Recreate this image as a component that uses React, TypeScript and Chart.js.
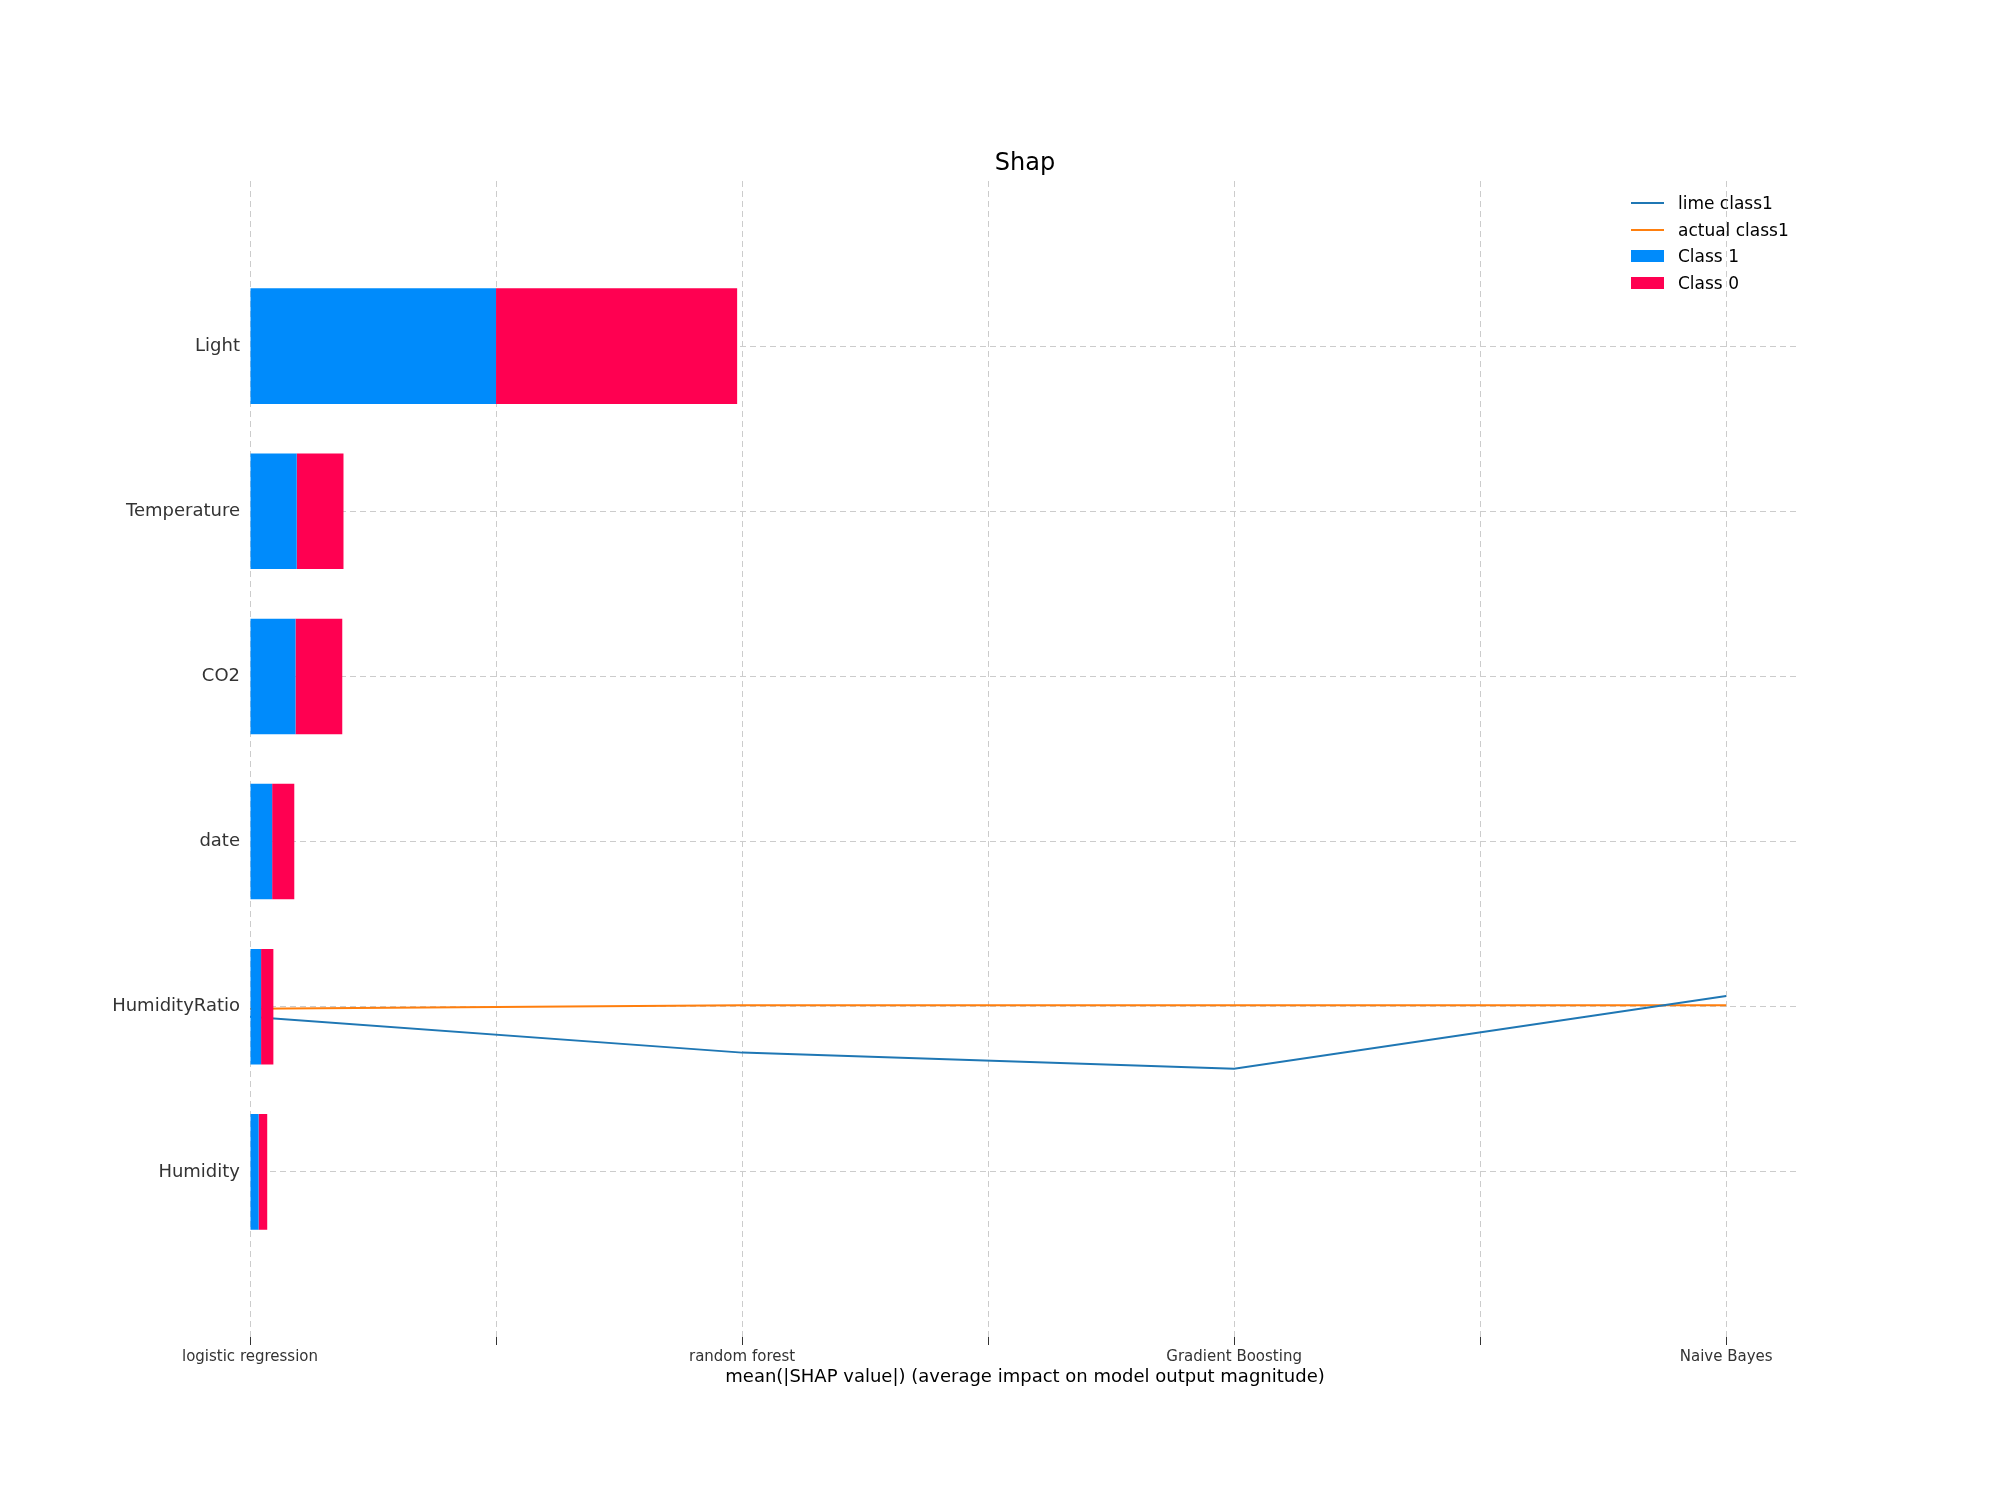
import { useEffect, useRef } from "react";
import { Chart, registerables } from "chart.js";

Chart.register(...registerables);

const features = ["", "Light", "Temperature", "CO2", "date", "HumidityRatio", "Humidity", ""];
const class1Values = [null, 1.0, 0.19, 0.185, 0.09, 0.045, 0.035, null];
const class0Values = [null, 0.98, 0.19, 0.19, 0.09, 0.05, 0.035, null];
const models = ["logistic regression", "random forest", "Gradient Boosting", "Naive Bayes"];
const modelPositions = [0, 2, 4, 6];
const limeClass1 = [0.277, 0.246, 0.232, 0.295];
const actualClass1 = [0.284, 0.287, 0.287, 0.287];

const FONT = "'DejaVu Sans', sans-serif";

export default function App() {
  const chartRef = useRef<HTMLCanvasElement>(null);
  const chartInstance = useRef<Chart | null>(null);

  useEffect(() => {
    if (!chartRef.current) return;
    const ctx = chartRef.current.getContext("2d");
    if (!ctx) return;
    if (chartInstance.current) chartInstance.current.destroy();

    const barBase = {
      type: "bar",
      indexAxis: "y",
      stack: "s",
      barPercentage: 0.7,
      categoryPercentage: 1,
      xAxisID: "x",
      yAxisID: "y",
    };

    chartInstance.current = new Chart(ctx, {
      type: "bar",
      data: {
        labels: features,
        datasets: [
          { ...barBase, label: "Class 1", data: class1Values, backgroundColor: "#008bfb" } as any,
          { ...barBase, label: "Class 0", data: class0Values, backgroundColor: "#ff0051" } as any,
          {
            type: "line",
            label: "lime class1",
            data: modelPositions.map((x, i) => ({ x, y: limeClass1[i] })),
            borderColor: "#1f77b4",
            borderWidth: 2,
            pointRadius: 0,
            xAxisID: "x",
            yAxisID: "y2",
          } as any,
          {
            type: "line",
            label: "actual class1",
            data: modelPositions.map((x, i) => ({ x, y: actualClass1[i] })),
            borderColor: "#ff7f0e",
            borderWidth: 2,
            pointRadius: 0,
            xAxisID: "x",
            yAxisID: "y2",
          } as any,
        ],
      },
      options: {
        animation: false,
        responsive: false,
        layout: { padding: { top: 181, right: 200, bottom: 108, left: 0 } },
        plugins: {
          legend: { display: false },
          tooltip: { enabled: false },
          title: { display: false },
        },
        scales: {
          x: {
            type: "linear",
            min: 0,
            max: 6.3,
            offset: false,
            stacked: true,
            afterBuildTicks: (s: any) => {
              s.ticks = [0, 1, 2, 3, 4, 5, 6].map((v) => ({ value: v }));
            },
            afterFit: (s: any) => {
              s.height = 55;
            },
            ticks: {
              autoSkip: false,
              maxRotation: 0,
              color: "#333",
              font: { family: FONT, size: 15 },
              callback: (v: any) => {
                const i = modelPositions.indexOf(Number(v));
                return i >= 0 ? models[i] : "";
              },
            },
            grid: { offset: false, color: "#cccccc", tickColor: "#333", tickLength: 8 },
            border: { display: false, dash: [6, 4] },
            title: {
              display: true,
              text: "mean(|SHAP value|) (average impact on model output magnitude)",
              color: "#000",
              font: { family: FONT, size: 18 },
              padding: { top: 2, bottom: 4 },
            },
          },
          y: {
            type: "category",
            offset: false,
            stacked: true,
            afterFit: (s: any) => {
              s.width = 250;
            },
            ticks: { color: "#333", font: { family: FONT, size: 18 }, padding: 10 },
            grid: {
              offset: false,
              drawTicks: false,
              color: (c: any) => (features[c.index] ? "#cccccc" : "rgba(0,0,0,0)"),
            },
            border: { display: false, dash: [6, 4] },
          },
          y2: {
            type: "linear",
            min: 0,
            max: 1,
            display: false,
          },
        },
      },
    });

    return () => {
      if (chartInstance.current) {
        chartInstance.current.destroy();
        chartInstance.current = null;
      }
    };
  }, []);

  const legend = [
    { label: "lime class1", color: "#1f77b4", line: true },
    { label: "actual class1", color: "#ff7f0e", line: true },
    { label: "Class 1", color: "#008bfb", line: false },
    { label: "Class 0", color: "#ff0051", line: false },
  ];

  return (
    <div style={{ position: "fixed", left: 0, top: 0, width: 2000, height: 1500, background: "#fff" }}>
      <canvas ref={chartRef} width={2000} height={1500} />
      <div
        style={{
          position: "absolute",
          left: 250,
          width: 1550,
          top: 148,
          textAlign: "center",
          fontFamily: FONT,
          fontSize: 24,
          color: "#000",
        }}
      >
        Shap
      </div>
      <div style={{ position: "absolute", left: 1631, top: 190, fontFamily: FONT, fontSize: 17, color: "#000" }}>
        {legend.map((l) => (
          <div key={l.label} style={{ display: "flex", alignItems: "center", height: 26.5 }}>
            <div
              style={{
                width: 33,
                height: l.line ? 2 : 12,
                background: l.color,
                marginRight: 14,
              }}
            />
            <span>{l.label}</span>
          </div>
        ))}
      </div>
    </div>
  );
}
